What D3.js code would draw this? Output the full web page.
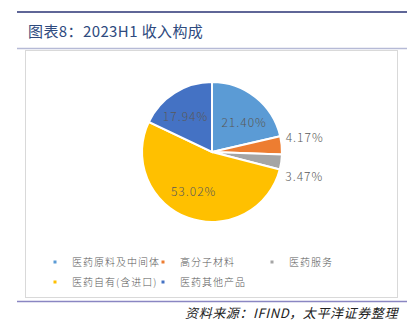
<!DOCTYPE html>
<html><head><meta charset="utf-8">
<script src="https://cdn.jsdelivr.net/npm/d3@7/dist/d3.min.js"></script>
<style>body{margin:0;background:#fff}</style>
</head><body>
<svg id="c" width="412" height="329"></svg>
<script>
const categories = ["医药原料及中间体","高分子材料","医药服务","医药自有(含进口)","医药其他产品"];
const values = [21.40, 4.17, 3.47, 53.02, 17.94];
const labels = ["21.40%","4.17%","3.47%","53.02%","17.94%"];
const colors = ["#5B9BD5","#ED7D31","#A5A5A5","#FFC000","#4472C4"];

const svg = d3.select("#c");
const font = "'Noto Sans CJK SC', 'Noto Sans', sans-serif";

// header lines
svg.append("line").attr("x1",17).attr("x2",407).attr("y1",12).attr("y2",12).attr("stroke","#5f6697").attr("stroke-width",2);
svg.append("text").attr("x",28).attr("y",37).attr("font-family",font).attr("font-size",15).attr("letter-spacing",0.4).attr("fill","#2e4a7e").text("图表8：2023H1 收入构成");
svg.append("line").attr("x1",17).attr("x2",407).attr("y1",48.5).attr("y2",48.5).attr("stroke","#b6bad6").attr("stroke-width",1.5);

// chart box
svg.append("rect").attr("x",25.5).attr("y",50.5).attr("width",372).attr("height",247).attr("fill","#fff").attr("stroke","#d9d9d9").attr("stroke-width",1);

// pie
const cx = 212, cy = 152, r = 70;
const pie = d3.pie().sort(null).value(d=>d)(values);
const arc = d3.arc().innerRadius(0).outerRadius(r);
const g = svg.append("g").attr("transform",`translate(${cx},${cy})`);
g.selectAll("path").data(pie).join("path").attr("d",arc).attr("fill",(d,i)=>colors[i]).attr("stroke","#fff").attr("stroke-width",2);

// labels
const nudge = [[6,4],[0,-7],[0,14],[-4,0],[-4,0]];
const inner = d3.arc().innerRadius(r*0.6).outerRadius(r*0.6);
pie.forEach((d,i)=>{
  let x,y,anchor="middle";
  if (values[i] > 10) { [x,y] = inner.centroid(d); }
  else { const a=(d.startAngle+d.endAngle)/2; x = Math.sin(a)*(r+4); y=-Math.cos(a)*(r+4); anchor="start"; }
  g.append("text").attr("x",x+nudge[i][0]).attr("y",y+nudge[i][1]).attr("dy","0.35em").attr("text-anchor",anchor)
   .attr("font-family",font).attr("font-size",12).attr("font-weight",300).attr("fill","#595959").attr("letter-spacing",1).text(labels[i]);
});

// legend
const legPos = [[55,262],[163,262],[272,262],[55,282],[163,282]];
categories.forEach((c,i)=>{
  const [x,y] = legPos[i];
  svg.append("rect").attr("x",x-1.5).attr("y",y-1.5).attr("width",3).attr("height",3).attr("fill",colors[i]);
  svg.append("text").attr("x",x+17).attr("y",y).attr("dy","0.35em").attr("font-family",font).attr("font-size",10)
    .attr("letter-spacing",1).attr("font-weight",300).attr("fill","#595959").text(c);
});

// footer
svg.append("line").attr("x1",17).attr("x2",407).attr("y1",301.5).attr("y2",301.5).attr("stroke","#8a86c2").attr("stroke-width",1.5);
svg.append("text").attr("x",398).attr("y",318).attr("text-anchor","end").attr("font-family",font).attr("font-size",13)
  .attr("letter-spacing",0.6).attr("font-style","italic").attr("fill","#222").text("资料来源：IFIND，太平洋证券整理");
</script>
</body></html>
